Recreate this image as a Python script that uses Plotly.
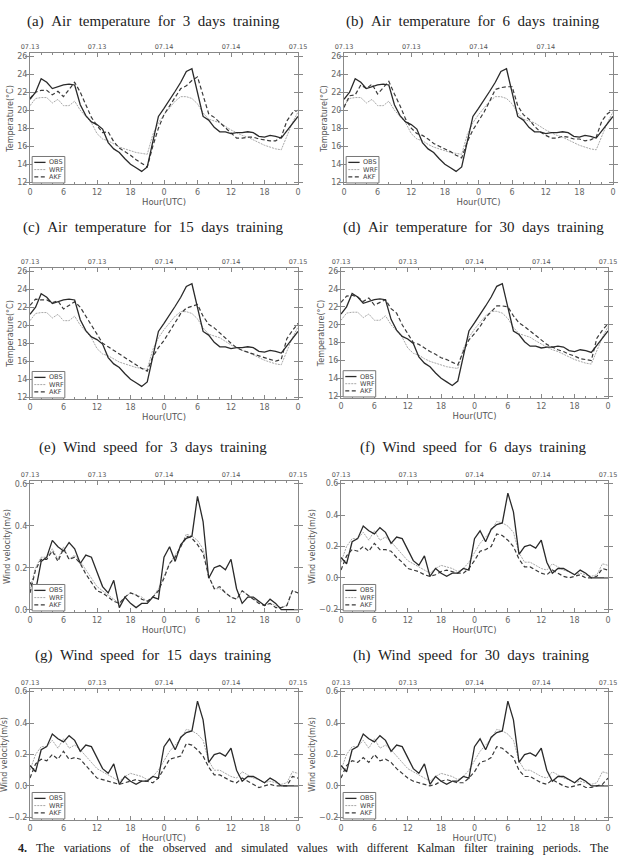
import plotly.graph_objects as go

hours = list(range(49))
tick_vals = [0, 6, 12, 18, 24, 30, 36, 42, 48]
tick_text = ["0", "6", "12", "18", "0", "6", "12", "18", "0"]
date_vals = [0, 12, 24, 36, 48]
date_text = ["07.13", "07.13", "07.14", "07.14", "07.15"]

obs_temp = [21.2, 22.0, 23.5, 23.1, 22.4, 22.6, 22.8, 22.9, 22.8, 20.6, 19.4, 18.7, 18.4, 17.9, 16.4, 15.7, 15.3,
            14.6, 14.0, 13.6, 13.2, 13.7, 16.5, 19.3, 20.2, 21.1, 22.1, 23.1, 24.3, 24.6, 22.0, 19.3, 18.9, 18.1,
            17.6, 17.6, 17.4, 17.5, 17.5, 17.6, 17.5, 17.1, 17.0, 17.2, 17.1, 16.9, 17.7, 18.5, 19.3]
wrf_temp = [20.5, 21.3, 21.4, 21.4, 20.8, 21.2, 20.5, 20.5, 21.0, 20.0, 19.3, 18.6, 17.4, 16.8, 16.6, 16.2, 15.9,
            15.7, 15.5, 15.3, 15.2, 15.1, 17.3, 18.6, 19.5, 20.3, 21.0, 21.5, 21.5, 21.3, 20.7, 19.7, 19.0, 18.8,
            18.6, 18.2, 17.8, 17.5, 17.2, 17.0, 16.7, 16.4, 16.1, 15.9, 15.7, 15.6, 17.2, 18.6, 19.8]
akf_temp_3d = [21.3, 22.0, 22.2, 22.2, 21.7, 22.1, 21.5, 22.3, 23.1, 22.0, 20.5, 19.2, 18.3, 17.5, 17.6, 16.5, 15.8,
               15.4, 15.0, 14.5, 14.1, 13.7, 16.0, 18.0, 19.5, 20.5, 21.5, 22.4, 22.7, 23.3, 23.7, 21.5, 19.6, 19.2,
               18.6, 18.0, 17.4, 16.9, 16.9, 17.0, 17.0, 16.8, 16.7, 16.6, 16.6, 17.0, 18.8, 19.7, 20.0]
akf_temp_6d = [20.3, 21.6, 21.7, 22.8, 22.4, 22.9, 21.8, 22.5, 23.2, 21.8, 20.5, 19.0, 18.0, 17.4, 17.2, 16.8, 16.3,
               16.0, 15.7, 15.4, 15.0, 14.7, 16.5, 17.8, 18.8, 19.8, 21.0, 22.3, 22.5, 22.6, 22.6, 20.5, 19.5, 19.0,
               18.2, 17.6, 17.2, 16.9, 16.9, 17.1, 17.0, 16.8, 16.8, 16.6, 16.7, 17.0, 18.8, 19.6, 20.0]
akf_temp_15d = [22.2, 22.9, 22.8, 22.8, 22.5, 22.7, 21.8, 22.2, 22.6, 22.0, 21.0, 20.0, 19.0, 18.0, 17.6, 17.2, 16.8,
                16.4, 16.0, 15.6, 15.2, 14.9, 16.5, 17.5, 18.3, 19.3, 20.3, 21.3, 21.9, 22.1, 22.3, 21.0, 20.1, 19.7,
                19.1, 18.6, 18.0, 17.5, 17.2, 17.0, 16.8, 16.6, 16.4, 16.2, 16.0, 16.2, 18.5, 19.4, 20.2]
akf_temp_30d = [22.5, 23.2, 23.3, 23.1, 22.6, 23.0, 22.2, 22.5, 22.8, 21.8, 21.3, 20.0, 19.0, 18.0, 17.8, 17.4, 17.0,
                16.7, 16.3, 16.1, 15.8, 15.5, 17.0, 18.3, 19.0, 19.8, 20.8, 21.5, 22.1, 22.1, 22.0, 21.0, 20.2, 19.8,
                19.3, 18.8, 18.2, 17.8, 17.5, 17.2, 17.0, 16.7, 16.5, 16.2, 16.1, 16.0, 18.5, 19.4, 20.1]

obs_wind = [0.13, 0.09, 0.23, 0.25, 0.33, 0.30, 0.28, 0.32, 0.29, 0.22, 0.26, 0.25, 0.18, 0.11, 0.08, 0.14, 0.01,
            0.06, 0.03, 0.01, 0.03, 0.03, 0.06, 0.05, 0.25, 0.30, 0.23, 0.31, 0.34, 0.35, 0.54, 0.42, 0.15, 0.20,
            0.21, 0.19, 0.24, 0.10, 0.03, 0.06, 0.06, 0.04, 0.02, 0.05, 0.03, 0.00, 0.00, 0.00, 0.00]
wrf_wind = [0.10, 0.20, 0.25, 0.25, 0.29, 0.24, 0.30, 0.24, 0.26, 0.23, 0.19, 0.15, 0.11, 0.09, 0.07, 0.05, 0.03,
            0.06, 0.08, 0.07, 0.06, 0.04, 0.06, 0.10, 0.16, 0.22, 0.26, 0.30, 0.36, 0.35, 0.33, 0.29, 0.16, 0.10,
            0.10, 0.08, 0.06, 0.05, 0.09, 0.07, 0.05, 0.04, 0.02, 0.03, 0.02, 0.01, 0.02, 0.09, 0.08]
akf_wind_3d = [0.08, 0.19, 0.24, 0.24, 0.28, 0.23, 0.29, 0.24, 0.25, 0.22, 0.17, 0.13, 0.09, 0.08, 0.06, 0.04, 0.03,
               0.06, 0.08, 0.07, 0.05, 0.04, 0.06, 0.09, 0.15, 0.22, 0.25, 0.30, 0.35, 0.34, 0.31, 0.27, 0.16, 0.10,
               0.11, 0.08, 0.06, 0.05, 0.09, 0.07, 0.05, 0.03, 0.02, 0.03, 0.01, 0.01, 0.02, 0.09, 0.08]
akf_wind_6d = [0.05, 0.14, 0.18, 0.17, 0.20, 0.17, 0.22, 0.18, 0.18, 0.17, 0.13, 0.10, 0.06, 0.05, 0.04, 0.02, 0.01,
               0.02, 0.04, 0.05, 0.04, 0.03, 0.03, 0.06, 0.11, 0.17, 0.18, 0.20, 0.28, 0.27, 0.24, 0.20, 0.12, 0.07,
               0.07, 0.05, 0.03, 0.02, 0.05, 0.03, 0.01, 0.00, 0.01, 0.02, 0.00, 0.00, 0.01, 0.06, 0.05]
akf_wind_15d = [0.05, 0.14, 0.17, 0.16, 0.20, 0.17, 0.22, 0.17, 0.18, 0.17, 0.13, 0.09, 0.05, 0.04, 0.03, 0.02, 0.01,
                0.02, 0.03, 0.04, 0.03, 0.03, 0.02, 0.05, 0.11, 0.17, 0.18, 0.19, 0.27, 0.26, 0.23, 0.19, 0.12, 0.07,
                0.07, 0.05, 0.03, 0.02, 0.05, 0.03, 0.01, -0.01, 0.00, 0.01, 0.00, 0.00, 0.00, 0.06, 0.05]
akf_wind_30d = [0.05, 0.13, 0.16, 0.15, 0.18, 0.15, 0.20, 0.16, 0.17, 0.15, 0.11, 0.08, 0.05, 0.03, 0.02, 0.01, 0.00,
                0.01, 0.03, 0.04, 0.03, 0.02, 0.02, 0.05, 0.09, 0.15, 0.16, 0.18, 0.25, 0.24, 0.21, 0.18, 0.10, 0.06,
                0.06, 0.04, 0.02, 0.01, 0.04, 0.02, 0.00, -0.01, 0.00, 0.01, -0.01, -0.01, 0.00, 0.01, 0.05]

titles = ["(a)  Air  temperature  for  3  days  training", "(b)  Air  temperature  for  6  days  training",
          "(c)  Air  temperature  for  15  days  training", "(d)  Air  temperature  for  30  days  training",
          "(e)  Wind  speed  for  3  days  training", "(f)  Wind  speed  for  6  days  training",
          "(g)  Wind  speed  for  15  days  training", "(h)  Wind  speed  for  30  days  training"]
akf_series = [akf_temp_3d, akf_temp_6d, akf_temp_15d, akf_temp_30d,
              akf_wind_3d, akf_wind_6d, akf_wind_15d, akf_wind_30d]
legend_names = ["OBS", "WRF", "AKF"]
caption = ("<b>4.</b>   The   variations   of   the   observed   and   simulated   values   with   different"
           "   Kalman   filter   training   periods.   The")

W, H = 620, 856
# panel pixel boxes: (left, right, top, bottom)
boxes = [(30, 298, 53, 184), (344, 613, 53, 184),
         (30, 298, 268, 399), (341, 608, 268, 398),
         (30, 298, 481, 612), (341, 608, 481, 612),
         (30, 298, 689, 820), (341, 608, 689, 820)]
title_pos = [(153, 21), (473, 21), (153, 228), (473, 228),
             (153, 447), (473, 447), (153, 655), (472, 655)]

fig = go.Figure()
layout = dict(width=W, height=H, margin=dict(l=0, r=0, t=0, b=0),
              paper_bgcolor="white", plot_bgcolor="white", showlegend=False)
annotations = []
shapes = []

tick_font = dict(family="DejaVu Sans", size=8, color="#666")
axis_col = "#888"

for i in range(8):
    n = i + 1
    sfx = "" if n == 1 else str(n)
    l, r, t, b = boxes[i]
    xd = [l / W, r / W]
    yd = [1 - b / H, 1 - t / H]
    is_temp = i < 4
    obs = obs_temp if is_temp else obs_wind
    wrf = wrf_temp if is_temp else wrf_wind
    akf = akf_series[i]
    xa, ya = "x" + sfx, "y" + sfx
    fig.add_trace(go.Scatter(x=hours, y=wrf, mode="lines", xaxis=xa, yaxis=ya,
                             line=dict(color="#a8a8a8", width=1, dash="2px,1px"), name="WRF"))
    fig.add_trace(go.Scatter(x=hours, y=akf, mode="lines", xaxis=xa, yaxis=ya,
                             line=dict(color="#3a3a3a", width=1.2, dash="4px,2.5px"), name="AKF"))
    fig.add_trace(go.Scatter(x=hours, y=obs, mode="lines", xaxis=xa, yaxis=ya,
                             line=dict(color="#2a2a2a", width=1.3), name="OBS"))
    # dummy trace for top date axis
    topn = n + 8
    fig.add_trace(go.Scatter(x=[None], y=[None], xaxis="x" + str(topn), yaxis=ya,
                             showlegend=False, hoverinfo="skip"))

    if is_temp:
        yr = [11.8, 26.35]
        ytv = [12, 14, 16, 18, 20, 22, 24, 26]
        ytitle = "Temperature(\u00b0C)"
        ytf = None
    else:
        if i == 4:
            yr = [-0.011, 0.613]
            ytv = [0.0, 0.2, 0.4, 0.6]
        else:
            yr = [-0.217, 0.617]
            ytv = [-0.2, 0.0, 0.2, 0.4, 0.6]
        ytitle = "Wind velocity(m/s)"
        ytf = ".1f"

    layout["xaxis" + sfx] = dict(domain=xd, anchor=ya, range=[0, 48], tickvals=tick_vals, ticktext=tick_text,
                                 ticks="inside", ticklen=4, tickcolor=axis_col, showline=True, linecolor=axis_col,
                                 linewidth=1, showgrid=False, zeroline=False, tickfont=tick_font, automargin=False,
                                 minor=dict(dtick=2, ticks="inside", ticklen=2, tickcolor=axis_col),
                                 title=dict(text="Hour(UTC)", font=dict(family="DejaVu Sans", size=8.5, color="#555"),
                                            standoff=1))
    layout["xaxis" + str(topn)] = dict(overlaying=xa, anchor=ya, side="top", range=[0, 48], automargin=False,
                                       tickvals=date_vals, ticktext=date_text, ticks="inside", ticklen=4,
                                       tickcolor=axis_col, showline=True, linecolor=axis_col, linewidth=1,
                                       showgrid=False, zeroline=False,
                                       minor=dict(dtick=2, ticks="inside", ticklen=2, tickcolor=axis_col),
                                       tickfont=dict(family="DejaVu Sans", size=6.5, color="#555"))
    yax = dict(domain=yd, anchor=xa, range=yr, tickvals=ytv, ticks="inside", ticklen=4, tickcolor=axis_col,
               showline=True, linecolor=axis_col, linewidth=1, mirror="allticks", showgrid=False,
               zeroline=False, tickfont=tick_font, automargin=False,
               title=dict(text=ytitle, font=dict(family="DejaVu Sans", size=8, color="#555"), standoff=2))
    if ytf:
        yax["tickformat"] = ytf
    layout["yaxis" + sfx] = yax

    tx, ty = title_pos[i]
    annotations.append(dict(text=titles[i].replace("  ", "\u00a0\u00a0"), x=tx / W, y=1 - ty / H,
                            xref="paper", yref="paper", xanchor="center", yanchor="middle", showarrow=False,
                            font=dict(family="Liberation Serif", size=15, color="#222")))

    # legend box (decoration)
    xdr, ydr = xa + " domain", ya + " domain"
    shapes.append(dict(type="rect", xref=xdr, yref=ydr, x0=0.008, x1=0.13, y0=0.008, y1=0.21,
                       line=dict(color="#777", width=1), fillcolor="white", layer="above"))
    styles = [dict(color="#2a2a2a", width=1.3), dict(color="#a8a8a8", width=1, dash="2px,1px"),
              dict(color="#3a3a3a", width=1.2, dash="4px,2.5px")]
    for k, nm in enumerate(legend_names):
        yy = 0.165 - k * 0.055
        shapes.append(dict(type="line", xref=xdr, yref=ydr, x0=0.016, x1=0.058, y0=yy, y1=yy,
                           line=styles[k], layer="above"))
        annotations.append(dict(text=nm, xref=xdr, yref=ydr, x=0.062, y=yy, xanchor="left", yanchor="middle",
                                showarrow=False, font=dict(family="DejaVu Sans", size=6.5, color="#444")))

annotations.append(dict(text=caption.replace("   ", "\u00a0\u00a0\u00a0"),
                        x=17 / W, y=0, xref="paper", yref="paper", xanchor="left", yanchor="bottom",
                        borderpad=0, showarrow=False,
                        font=dict(family="Liberation Serif", size=12, color="#222")))

layout["annotations"] = annotations
layout["shapes"] = shapes
fig.update_layout(**layout)
fig.write_html("out.html")
